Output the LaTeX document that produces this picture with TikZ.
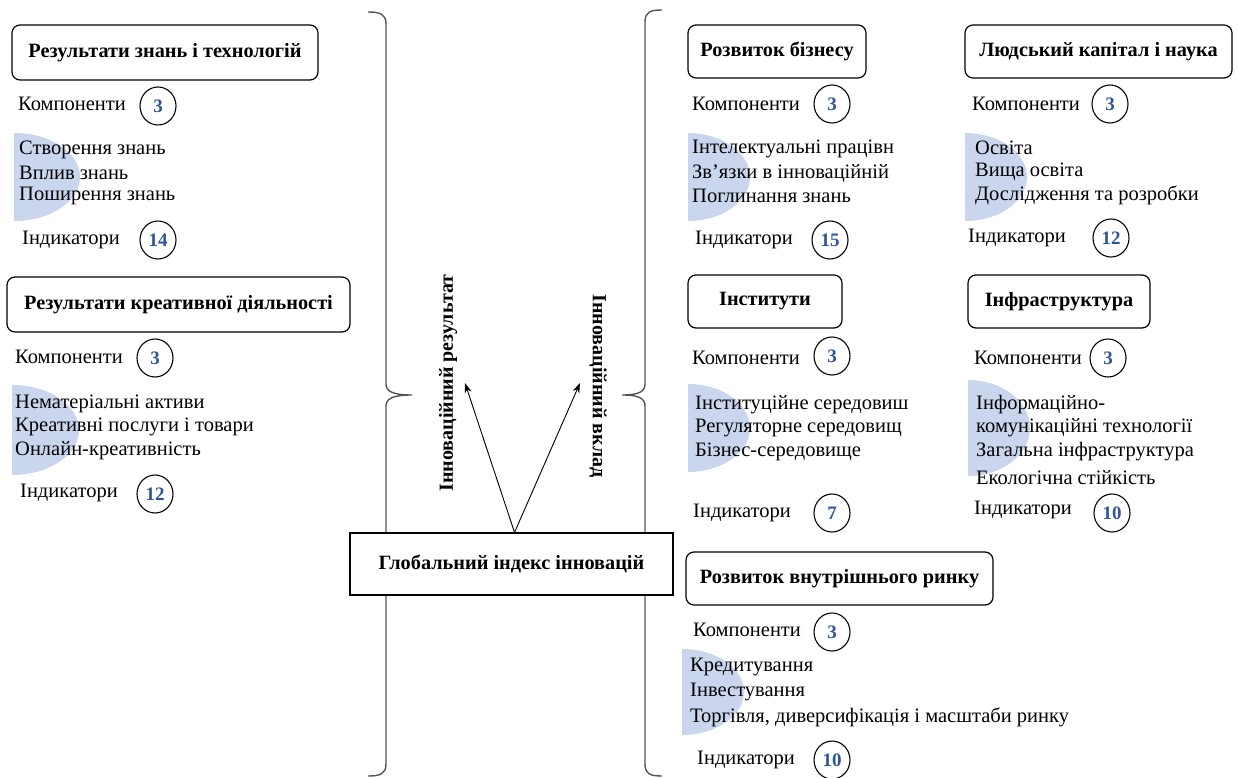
\documentclass[tikz,border=0pt]{standalone}
\usepackage{fontspec}
\setmainfont{Liberation Serif}
\usetikzlibrary{arrows.meta,shapes.geometric}
\definecolor{numblue}{HTML}{2F5597}
\definecolor{halfblue}{HTML}{CAD6EE}
\definecolor{bracegray}{HTML}{555555}
\newcommand\hblob[4]{%
  \begin{scope}
    \clip (#1,#2-#4) rectangle (#1+#3,#2+#4);
    \fill[halfblue] (#1,#2) ellipse[x radius=#3pt,y radius=#4pt];
  \end{scope}}
\begin{document}
\begin{tikzpicture}[x=1pt,y=-1pt,
  txt/.style={anchor=west,inner sep=0pt,font=\fontsize{20.5}{24}\selectfont},
  titlebox/.style={draw,rounded corners=8pt,line width=1.2pt,inner sep=0pt,font=\bfseries\fontsize{20.3}{24}\selectfont},
  cnt/.style={draw,ellipse,line width=1.1pt,fill=white,minimum width=36pt,minimum height=38pt,inner sep=0pt,font=\bfseries\fontsize{19}{22}\selectfont,text=numblue},
  brace/.style={draw=bracegray,line width=1.4pt},
  arr/.style={-{Stealth[length=10pt,width=7pt]},line width=0.9pt}]
\useasboundingbox (0,0) rectangle (1238,778);

% braces
\draw[brace] (368,12) .. controls (380,12) and (386,14) .. (386,24) -- (386,384)
  .. controls (386,391) and (392,395) .. (412,395)
  .. controls (392,395) and (386,399) .. (386,406) -- (386,764)
  .. controls (386,774) and (380,776) .. (368,776);
\draw[brace] (662,10) .. controls (650,10) and (645,12) .. (645,22) -- (645,384)
  .. controls (645,391) and (640,395) .. (622,395)
  .. controls (640,395) and (645,399) .. (645,406) -- (645,764)
  .. controls (645,774) and (650,776) .. (662,776);

% central box
\node[draw,line width=1.1pt,fill=white,minimum width=323pt,minimum height=62pt,inner sep=0pt,
  font=\bfseries\fontsize{20.3}{24}\selectfont] (gii) at (511.5,564) {Глобальний індекс інновацій};
\coordinate (aend1) at (465,383);
\coordinate (aend2) at (580,383);
\draw[arr] (gii.north) ++(3,0) coordinate (astart) -- (aend1);
\draw[arr] (astart) -- (aend2);
\node[rotate=90,inner sep=0pt,font=\bfseries\fontsize{20}{24}\selectfont] (vres) at (448,383) {Інноваційний результат};
\node[rotate=-90,inner sep=0pt,font=\bfseries\fontsize{20}{24}\selectfont] (vin) at (598,386) {Інноваційний вклад};

% ---- Left column block 1
\node[titlebox,minimum width=306pt,minimum height=55pt] (t1) at (165,52.5) {Результати знань і технологій};
\node[txt] (k1) at (18,104) {Компоненти};
\node[cnt] (k1n) at (158,106) {3};
\hblob{14}{177}{66}{44}
\node[txt] (i1a) at (19,150) {Створення знань};
\node[txt] (i1b) at (19,173) {Вплив знань};
\node[txt] (i1c) at (19,196) {Поширення знань};
\node[txt] (n1) at (22,240) {Індикатори};
\node[cnt] (n1n) at (158,240) {14};

% ---- Left column block 2
\node[titlebox,minimum width=343pt,minimum height=55pt] (t2) at (178.5,304.5) {Результати креативної діяльності};
\node[txt] (k2) at (15,357) {Компоненти};
\node[cnt] (k2n) at (155,358) {3};
\hblob{12}{430}{67}{45}
\node[txt] (i2a) at (15,404) {Нематеріальні активи};
\node[txt] (i2b) at (15,427) {Креативні послуги і товари};
\node[txt] (i2c) at (15,451) {Онлайн-креативність};
\node[txt] (n2) at (20,493) {Індикатори};
\node[cnt] (n2n) at (155,494) {12};

% ---- Right block: business
\node[titlebox,minimum width=178pt,minimum height=53pt] (t3) at (777,51.5) {Розвиток бізнесу};
\node[txt] (k3) at (692,104) {Компоненти};
\node[cnt] (k3n) at (832,104) {3};
\hblob{688}{177}{62}{44}
\node[txt] (i3a) at (692,149) {Інтелектуальні працівн};
\node[txt] (i3b) at (692,173) {Зв’язки в інноваційній};
\node[txt] (i3c) at (692,196) {Поглинання знань};
\node[txt] (n3) at (695,240) {Індикатори};
\node[cnt] (n3n) at (830,240) {15};

% ---- Right block: human capital
\node[titlebox,minimum width=267pt,minimum height=53pt] (t4) at (1098.5,51.5) {Людський капітал і наука};
\node[txt] (k4) at (972,104) {Компоненти};
\node[cnt] (k4n) at (1110,104) {3};
\hblob{965}{177}{62}{44}
\node[txt] (i4a) at (975,148) {Освіта};
\node[txt] (i4b) at (975,172) {Вища освіта};
\node[txt] (i4c) at (975,195) {Дослідження та розробки};
\node[txt] (n4) at (968,238) {Індикатори};
\node[cnt] (n4n) at (1111,238) {12};

% ---- Right block: institutions
\node[titlebox,minimum width=154pt,minimum height=53pt] (t5) at (765,301.5) {Інститути};
\node[txt] (k5) at (692,358) {Компоненти};
\node[cnt] (k5n) at (832,356) {3};
\hblob{688}{428}{62}{44}
\node[txt] (i5a) at (695,405) {Інституційне середовиш};
\node[txt] (i5b) at (695,428) {Регуляторне середовищ};
\node[txt] (i5c) at (695,452) {Бізнес-середовище};
\node[txt] (n5) at (693,513) {Індикатори};
\node[cnt] (n5n) at (832,513) {7};

% ---- Right block: infrastructure
\node[titlebox,minimum width=182pt,minimum height=53pt] (t6) at (1059,301.5) {Інфраструктура};
\node[txt] (k6) at (974,358) {Компоненти};
\node[cnt] (k6n) at (1108,358) {3};
\hblob{968}{428}{62}{48}
\node[txt] (i6a) at (976,405) {Інформаційно-};
\node[txt] (i6b) at (976,428) {комунікаційні технології};
\node[txt] (i6c) at (976,452) {Загальна інфраструктура};
\node[txt] (i6d) at (976,478) {Екологічна стійкість};
\node[txt] (n6) at (974,510) {Індикатори};
\node[cnt] (n6n) at (1112,513) {10};

% ---- Right block: domestic market
\node[titlebox,minimum width=307pt,minimum height=53pt] (t7) at (839.5,578.5) {Розвиток внутрішнього ринку};
\node[txt] (k7) at (693,630) {Компоненти};
\node[cnt] (k7n) at (832,632) {3};
\hblob{682}{692}{62}{43}
\node[txt] (i7a) at (690,667) {Кредитування};
\node[txt] (i7b) at (690,692) {Інвестування};
\node[txt] (i7c) at (690,717) {Торгівля, диверсифікація і масштаби ринку};
\node[txt] (n7) at (697,760) {Індикатори};
\node[cnt] (n7n) at (832,760) {10};
\end{tikzpicture}
\end{document}
